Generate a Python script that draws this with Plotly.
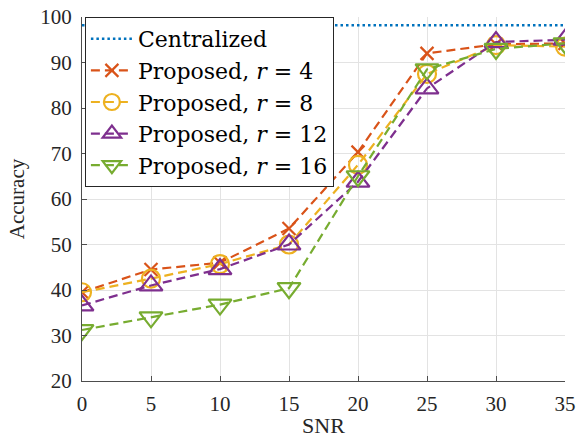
import plotly.graph_objects as go

snr = [0, 5, 10, 15, 20, 25, 30, 35]
acc_centralized = [98.2] * len(snr)
acc_r4 = [39.5, 44.5, 46.0, 53.5, 70.3, 92.0, 94.0, 94.2]
acc_r8 = [39.5, 42.5, 45.7, 50.0, 67.5, 87.5, 93.8, 93.5]
acc_r12 = [36.6, 41.0, 44.6, 50.0, 63.8, 84.3, 94.5, 95.0]
acc_r16 = [31.2, 34.0, 36.8, 40.4, 65.0, 88.5, 93.0, 94.2]

x_ticks = [0, 5, 10, 15, 20, 25, 30, 35]
y_ticks = [20, 30, 40, 50, 60, 70, 80, 90, 100]

serif = "Liberation Serif"
legend_serif = "DejaVu Serif"
dash = "9px,5px"

fig = go.Figure()
fig.add_trace(go.Scatter(
    x=snr, y=acc_centralized, mode="lines", name="Centralized",
    line=dict(color="#0072BD", width=2.5, dash="2.5px,3px"),
))

series = [
    ("Proposed, <i>r</i> = 4", acc_r4, "#D95319", "x-thin", 13),
    ("Proposed, <i>r</i> = 8", acc_r8, "#EDB120", "circle-open", 18),
    ("Proposed, <i>r</i> = 12", acc_r12, "#7E2F8E", "triangle-up-open", 20),
    ("Proposed, <i>r</i> = 16", acc_r16, "#77AC30", "triangle-down-open", 20),
]
for name, vals, color, symbol, size in series:
    fig.add_trace(go.Scatter(
        x=snr, y=vals, mode="lines+markers", name=name,
        line=dict(color=color, width=2.2, dash=dash),
        marker=dict(symbol=symbol, size=size, color=color,
                    line=dict(color=color, width=2.2)),
    ))

axis_common = dict(
    showgrid=True, gridcolor="#e3e3e3", gridwidth=1,
    ticks="inside", ticklen=5, tickcolor="#4d4d4d",
    showline=True, linecolor="#4d4d4d", linewidth=1.2,
    tickfont=dict(family=serif, size=21, color="#262626"),
    zeroline=False, mirror=False, automargin=False,
)

fig.update_layout(
    width=576, height=438,
    margin=dict(l=82, r=11, t=17, b=57),
    paper_bgcolor="white", plot_bgcolor="white",
    font=dict(family=serif, color="#262626"),
    xaxis=dict(range=[0, 35], tickvals=x_ticks, ticklabelstandoff=4,
               title=dict(text="SNR", font=dict(family=serif, size=22), standoff=2),
               **axis_common),
    yaxis=dict(range=[20, 100], tickvals=y_ticks, ticklabelstandoff=5,
               title=dict(text="Accuracy", font=dict(family=serif, size=21), standoff=9),
               **axis_common),
    legend=dict(
        x=0.006, y=1.0, xanchor="left", yanchor="top",
        bgcolor="white", bordercolor="#262626", borderwidth=1,
        font=dict(family=legend_serif, size=22, color="#000000"),
        tracegroupgap=0, itemwidth=42,
    ),
    showlegend=True,
)

fig.write_html("out.html")
